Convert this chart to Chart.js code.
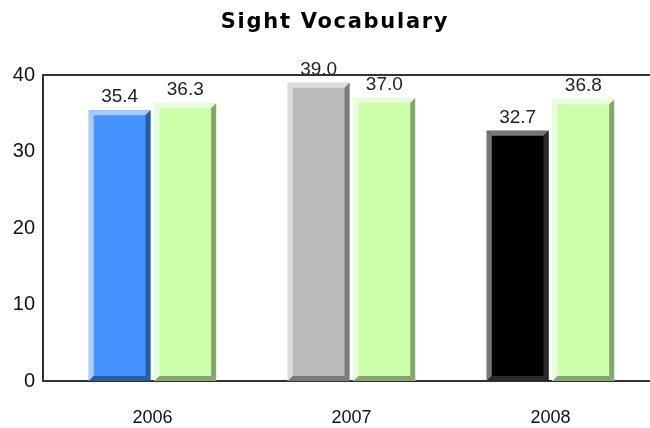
<!DOCTYPE html>
<html lang="en">
<head>
  <meta charset="UTF-8" />
  <title>Sight Vocabulary</title>
  <script src="https://cdn.jsdelivr.net/npm/chart.js"></script>
  <style>
    html, body { margin: 0; padding: 0; background: #ffffff; }
    canvas { display: block; }
  </style>
</head>
<body>
  <canvas id="grafico" width="650" height="428"></canvas>

  <script>
    // data
    const anos = ['2006', '2007', '2008'];
    const notas = [35.4, 39.0, 32.7];
    const medias = [36.3, 37.0, 36.8];
    const yTicks = [0, 10, 20, 30, 40];

    // face / light / dark colours per bar
    const coresNotas = ['#4592ff', '#bbbbbb', '#000000'];
    const clarasNotas = ['#a8ccff', '#dcdcdc', '#777777'];
    const escurasNotas = ['#2c5c9e', '#7a7a7a', '#2a2a2a'];
    const corMedia = '#ccffaa';
    const claraMedia = '#e6ffdc';
    const escuraMedia = '#86a46e';

    // bevel over every bar, from the bar elements themselves
    const bevel = {
      id: 'bevel',
      afterDatasetsDraw(chart) {
        const ctx = chart.ctx;
        const s = 5;
        chart.data.datasets.forEach((ds, di) => {
          const meta = chart.getDatasetMeta(di);
          meta.data.forEach((bar, i) => {
            const p = bar.getProps(['x', 'y', 'base', 'width'], true);
            const L = p.x - p.width / 2, R = p.x + p.width / 2;
            const T = Math.min(p.y, p.base), B = Math.max(p.y, p.base);
            const clara = ds.claras[i], escura = ds.escuras[i];
            const poly = (pts, cor) => {
              ctx.beginPath();
              ctx.moveTo(pts[0][0], pts[0][1]);
              pts.slice(1).forEach(q => ctx.lineTo(q[0], q[1]));
              ctx.closePath();
              ctx.fillStyle = cor;
              ctx.fill();
            };
            ctx.save();
            poly([[L, T], [R, T], [R - s, T + s], [L + s, T + s]], clara);
            poly([[L, T], [L + s, T + s], [L + s, B - s], [L, B]], clara);
            poly([[R, T], [R, B], [R - s, B - s], [R - s, T + s]], escura);
            poly([[L, B], [R, B], [R - s, B - s], [L + s, B - s]], escura);
            ctx.restore();
          });
        });
      }
    };

    // values above bars, top frame line and title
    const extras = {
      id: 'extras',
      afterDraw(chart) {
        const ctx = chart.ctx;
        const area = chart.chartArea;
        ctx.save();
        ctx.fillStyle = '#222222';
        ctx.font = '19px "Liberation Sans", Arial, sans-serif';
        ctx.textAlign = 'center';
        ctx.textBaseline = 'alphabetic';
        chart.data.datasets.forEach((ds, di) => {
          chart.getDatasetMeta(di).data.forEach((bar, i) => {
            const p = bar.getProps(['x', 'y'], true);
            ctx.fillText(ds.data[i].y.toFixed(1), p.x, p.y - 8);
          });
        });

        ctx.strokeStyle = '#333333';
        ctx.lineWidth = 2;
        ctx.beginPath();
        ctx.moveTo(area.left - 1, area.top);
        ctx.lineTo(area.right, area.top);
        ctx.stroke();

        ctx.fillStyle = '#000000';
        ctx.font = 'bold 21px "DejaVu Sans", Verdana, sans-serif';
        if ('letterSpacing' in ctx) ctx.letterSpacing = '1.7px';
        ctx.fillText('Sight Vocabulary', 335, 28);
        ctx.restore();
      }
    };

    new Chart(document.getElementById('grafico'), {
      type: 'bar',
      data: {
        datasets: [
          {
            label: 'Score',
            data: notas.map((v, i) => ({ x: i, y: v })),
            backgroundColor: coresNotas,
            claras: clarasNotas,
            escuras: escurasNotas,
            borderWidth: 0
          },
          {
            label: 'Average',
            data: medias.map((v, i) => ({ x: i, y: v })),
            backgroundColor: corMedia,
            claras: medias.map(() => claraMedia),
            escuras: medias.map(() => escuraMedia),
            borderWidth: 0
          }
        ]
      },
      options: {
        responsive: false,
        animation: false,
        categoryPercentage: 0.66,
        barPercentage: 0.94,
        layout: { padding: { top: 75, left: 0, right: 0, bottom: 0 } },
        plugins: {
          legend: { display: false },
          tooltip: { enabled: false },
          title: { display: false }
        },
        scales: {
          x: {
            type: 'linear',
            min: -0.55,
            max: 2.5,
            offset: false,
            afterBuildTicks: (scale) => {
              scale.ticks = anos.map((_, i) => ({ value: i }));
            },
            afterFit: (scale) => { scale.height = 47; },
            grid: { display: false, drawTicks: false },
            border: { display: true, color: '#333333', width: 2 },
            ticks: {
              padding: 26,
              color: '#111111',
              font: { family: '"Liberation Sans", Arial, sans-serif', size: 18 },
              callback: (v) => anos[v]
            }
          },
          y: {
            min: 0,
            max: 40,
            afterBuildTicks: (scale) => {
              scale.ticks = yTicks.map(v => ({ value: v }));
            },
            afterFit: (scale) => { scale.width = 43; },
            grid: { display: false, drawTicks: false },
            border: { display: true, color: '#333333', width: 2 },
            ticks: {
              padding: 8,
              color: '#111111',
              font: { family: '"Liberation Sans", Arial, sans-serif', size: 20 }
            }
          }
        }
      },
      plugins: [bevel, extras]
    });
  </script>
</body>
</html>
